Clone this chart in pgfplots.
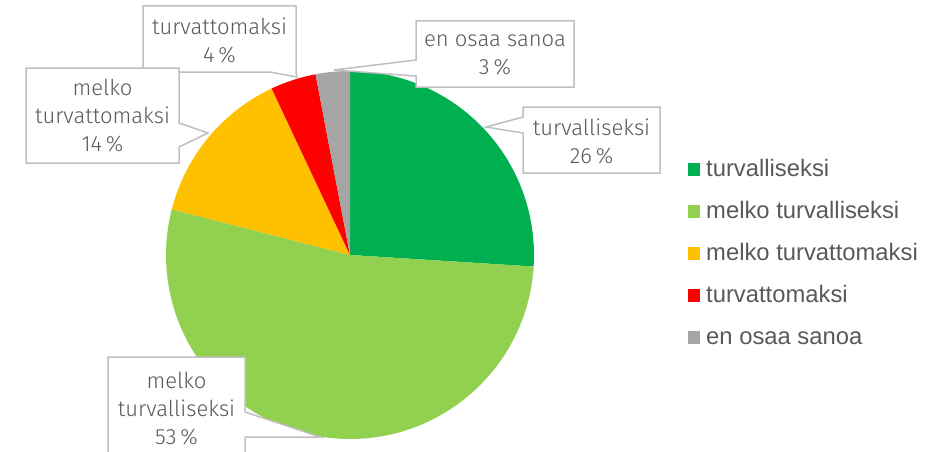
\documentclass[border=0pt]{standalone}
\usepackage{fontspec}
\usepackage{pgfplots}
\pgfplotsset{compat=1.18}
\setmainfont{Liberation Sans}
\newfontfamily\labfont{Fira Sans}[UprightFont=* Light]

\definecolor{cA}{HTML}{00B050}
\definecolor{cB}{HTML}{92D050}
\definecolor{cC}{HTML}{FFC000}
\definecolor{cD}{HTML}{FF0000}
\definecolor{cE}{HTML}{A5A5A5}
\definecolor{txt}{HTML}{595959}
\definecolor{brd}{HTML}{BFBFBF}

% shares (%)
\def\vA{26}\def\vB{53}\def\vC{14}\def\vD{4}\def\vE{3}
\pgfmathsetmacro\aA{90}
\pgfmathsetmacro\aB{\aA-\vA*3.6}
\pgfmathsetmacro\aC{\aB-\vB*3.6}
\pgfmathsetmacro\aD{\aC-\vC*3.6}
\pgfmathsetmacro\aE{\aD-\vD*3.6}
\pgfmathsetmacro\aF{\aE-\vE*3.6}

\begin{document}
\begin{tikzpicture}
\begin{axis}[hide axis, x=1pt, y=1pt, xmin=0, xmax=939, ymin=0, ymax=452,
  y dir=reverse, clip=false, scale only axis]
\coordinate (SW) at (axis cs:0,452);
\coordinate (NE) at (axis cs:939,0);
% pie
\fill[cA] (axis cs:350,255) -- ++(\aA:184pt) arc[start angle=\aA, end angle=\aB, radius=184pt] -- cycle;
\fill[cB] (axis cs:350,255) -- ++(\aB:184pt) arc[start angle=\aB, end angle=\aC, radius=184pt] -- cycle;
\fill[cC] (axis cs:350,255) -- ++(\aC:184pt) arc[start angle=\aC, end angle=\aD, radius=184pt] -- cycle;
\fill[cD] (axis cs:350,255) -- ++(\aD:184pt) arc[start angle=\aD, end angle=\aE, radius=184pt] -- cycle;
\fill[cE] (axis cs:350,255) -- ++(\aE:184pt) arc[start angle=\aE, end angle=\aF, radius=184pt] -- cycle;
% callouts
\filldraw[fill=white, draw=brd, line width=1.5pt, line join=miter]
  (axis cs:523,107) -- (axis cs:660,107) -- (axis cs:660,173) -- (axis cs:523,173)
  -- (axis cs:523,133) -- (axis cs:486,127) -- (axis cs:523,117) -- cycle;
\filldraw[fill=white, draw=brd, line width=1.5pt]
  (axis cs:416,21) -- (axis cs:574,21) -- (axis cs:574,87) -- (axis cs:416,87)
  -- (axis cs:416,76) -- (axis cs:334,70) -- (axis cs:416,60) -- cycle;
\filldraw[fill=white, draw=brd, line width=1.5pt]
  (axis cs:143,6) -- (axis cs:296,6) -- (axis cs:296,72) -- (axis cs:297,77)
  -- (axis cs:270,72) -- (axis cs:143,72) -- cycle;
\filldraw[fill=white, draw=brd, line width=1.5pt]
  (axis cs:26,68) -- (axis cs:179,68) -- (axis cs:179,123) -- (axis cs:208,133)
  -- (axis cs:179,147) -- (axis cs:179,163) -- (axis cs:26,163) -- cycle;
\fill[white] (axis cs:108,357) rectangle (axis cs:245,452);
\fill[white] (axis cs:245,412) -- (axis cs:320,437) -- (axis cs:245,437) -- cycle;
\draw[brd, line width=1.5pt] (axis cs:108,452) -- (axis cs:108,357) -- (axis cs:245,357)
  -- (axis cs:245,412) -- (axis cs:320,437) -- (axis cs:245,437) -- (axis cs:245,452);
\begin{scope}[every node/.style={align=center, text=txt, inner sep=0pt,
    font=\labfont\fontsize{22}{28}\selectfont}]
\node at (axis cs:591.5,141) {turvalliseksi\\26\kern0.18em\%};
\node at (axis cs:495,55) {en osaa sanoa\\3\kern0.18em\%};
\node at (axis cs:219.5,40) {turvattomaksi\\4\kern0.18em\%};
\node at (axis cs:102.5,116) {melko\\turvattomaksi\\14\kern0.18em\%};
\node at (axis cs:176.5,409) {melko\\turvalliseksi\\53\kern0.18em\%};
\end{scope}
% legend
\fill[cA] (axis cs:688,163) rectangle (axis cs:700,176);
\fill[cB] (axis cs:688,205) rectangle (axis cs:700,218);
\fill[cC] (axis cs:688,247) rectangle (axis cs:700,260);
\fill[cD] (axis cs:688,289) rectangle (axis cs:700,302);
\fill[cE] (axis cs:688,331) rectangle (axis cs:700,344);
\begin{scope}[every node/.style={anchor=base west, text=txt, inner sep=0pt,
    font=\fontsize{23.8}{28}\selectfont}]
\node at (axis cs:706,176) {turvalliseksi};
\node at (axis cs:706,218) {melko turvalliseksi};
\node at (axis cs:706,260) {melko turvattomaksi};
\node at (axis cs:706,302) {turvattomaksi};
\node at (axis cs:706,344) {en osaa sanoa};
\end{scope}
\end{axis}
\pgfresetboundingbox
\path[use as bounding box] (SW) rectangle (NE);
\end{tikzpicture}
\end{document}
